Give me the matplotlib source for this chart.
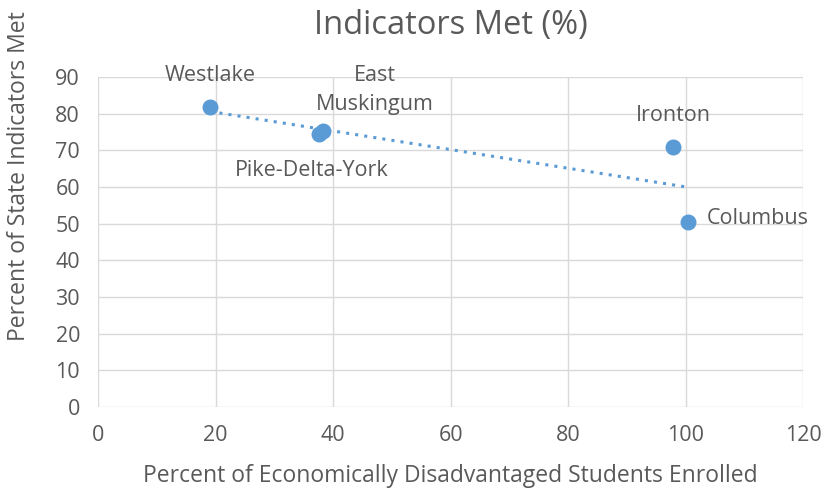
import numpy as np
import matplotlib.pyplot as plt

# districts and values
districts = ["Westlake", "East\nMuskingum", "Pike-Delta-York", "Ironton", "Columbus"]
disadvantaged = [19.1, 38.3, 37.6, 97.9, 100.3]
indicators_met = [81.8, 75.3, 74.4, 70.9, 50.4]

plt.rcParams["font.family"] = ["Open Sans", "DejaVu Sans"]
text_color = "#595959"
point_color = "#5B9BD5"

fig = plt.figure(figsize=(8.24, 4.91), dpi=100)
ax = fig.add_axes([0.119, 0.171, 0.856, 0.672])

ax.scatter(disadvantaged, indicators_met, s=110, color=point_color, zorder=3)

# linear trendline over the data range
slope, intercept = np.polyfit(disadvantaged, indicators_met, 1)
xs = np.array([min(disadvantaged), max(disadvantaged)])
ax.plot(xs, slope * xs + intercept, color=point_color, linestyle=(0, (1, 2)),
        linewidth=2.2, zorder=2)

# data labels
offsets = [(0, 23, "center"), (37, 29.5, "center"), (-5, -26, "center"),
           (0, 23, "center"), (14, 3, "left")]
for name, x, y, (dx, dy, ha) in zip(districts, disadvantaged, indicators_met, offsets):
    ax.annotate(name, (x, y), xytext=(dx, dy), textcoords="offset points",
                ha=ha, va="center", fontsize=15.5, color=text_color,
                linespacing=1.55)

ax.set_xlim(0, 120)
ax.set_ylim(0, 90)
ax.set_xticks(range(0, 121, 20))
ax.set_yticks(range(0, 91, 10))
ax.grid(True, color="#D9D9D9", linewidth=1)
ax.set_axisbelow(True)
for s in ax.spines.values():
    s.set_visible(False)
ax.tick_params(axis="x", length=0, labelsize=15.5, labelcolor=text_color, pad=13)
ax.tick_params(axis="y", length=0, labelsize=15.5, labelcolor=text_color, pad=13)

ax.set_title("Indicators Met (%)", fontsize=23.5, color=text_color, pad=31)
ax.set_xlabel("Percent of Economically Disadvantaged Students Enrolled",
              fontsize=16.5, color=text_color, labelpad=13)
ax.set_ylabel("Percent of State Indicators Met", fontsize=16.5, color=text_color)
ax.yaxis.set_label_coords(-0.095, 0.70)

fig.savefig("out.png", dpi=100)
